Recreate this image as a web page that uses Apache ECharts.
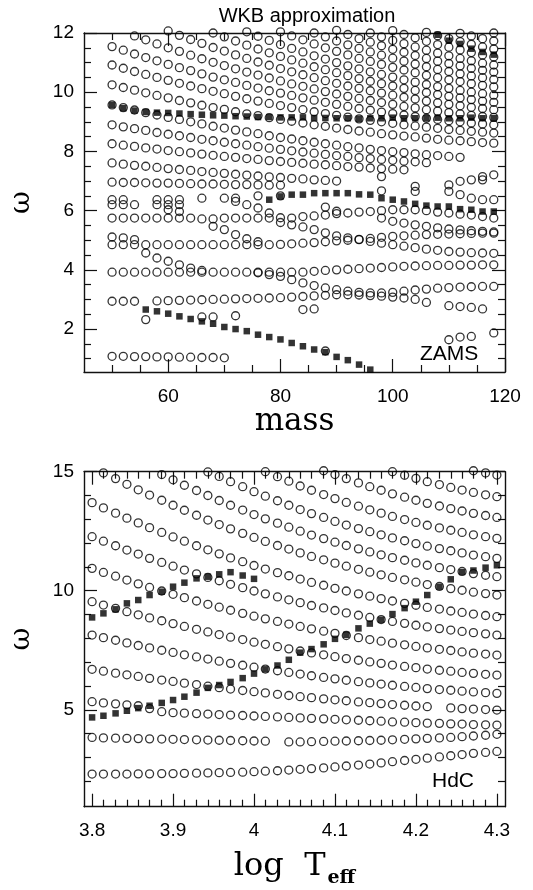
<!DOCTYPE html>
<html><head><meta charset="utf-8">
<script src="https://cdn.jsdelivr.net/npm/echarts@6/dist/echarts.min.js"></script>
<style>html,body{margin:0;padding:0;background:#fff}#c{width:533px;height:890px}</style>
</head><body><div id="c"></div>
<script>
// ---------- TOP PANEL (ZAMS): columns of mass ----------
const massCols = [50,52,54,56,58,60,62,64,66,68,70,72,74,76,78,80,82,84,86,88,90,92,94,96,98,100,102,104,106,108,110,112,114,116,118];
// each row: [start column index, omega values]
const zRow0 = [0,[6.96,6.95,6.95,6.94,6.93,6.93,6.92,6.91,6.90,6.90,6.89,6.88,6.88,6.87,6.86,6.86]];
const zRow1 = [0,[7.61,7.57,7.53,7.50,7.46,7.42,7.39,7.36,7.32,7.29,7.26,7.23,7.20,7.17,7.14,7.12,7.09,7.07,7.04,7.02,7.00]];
const zRow2 = [0,[8.26,8.21,8.17,8.12,8.08,8.03,7.99,7.95,7.91,7.87,7.83,7.80,7.76,7.73,7.69,7.66,7.63,7.60,7.57,7.55,7.52,7.49,7.47,7.44,7.42,7.40,7.38]];
const zRow3 = [0,[8.90,8.83,8.77,8.71,8.64,8.58,8.53,8.47,8.41,8.36,8.31,8.26,8.21,8.16,8.11,8.07,8.02,7.98,7.94,7.90,7.86,7.83,7.79,7.76,7.73,7.70,7.67,7.65,7.62]];
const zRow4 = [0,[9.57,9.48,9.40,9.31,9.23,9.15,9.08,9.00,8.93,8.85,8.79,8.72,8.66,8.60,8.53,8.47,8.42,8.36,8.31,8.26,8.21,8.16,8.12,8.07,8.03,7.99,7.96,7.92,7.89,7.86,7.83,7.80]];
const zRow5 = [0,[10.25,10.16,10.07,9.98,9.89,9.81,9.72,9.64,9.56,9.48,9.42,9.34,9.27,9.21,9.14,9.08,9.02,8.96,8.90,8.85,8.79,8.74,8.69,8.65,8.60,8.56,8.52,8.49,8.45,8.41,8.38,8.36,8.33,8.30,8.28]];
const zRow6 = [0,[10.92,10.81,10.70,10.60,10.50,10.40,10.30,10.21,10.12,10.03,9.95,9.86,9.78,9.70,9.62,9.55,9.48,9.41,9.34,9.28,9.22,9.16,9.10,9.05,9.00,8.95,8.90,8.86,8.82,8.78,8.74,8.71,8.68,8.65,8.62]];
const zRow7 = [0,[11.54,11.42,11.29,11.17,11.06,10.94,10.83,10.73,10.62,10.51,10.42,10.33,10.23,10.14,10.05,9.97,9.89,9.81,9.73,9.66,9.59,9.52,9.45,9.39,9.33,9.28,9.23,9.18,9.12,9.08,9.04,9.00,8.96,8.93,8.90]];
const zRow8 = [2,[11.90,11.77,11.63,11.50,11.38,11.25,11.13,11.01,10.90,10.79,10.68,10.58,10.48,10.38,10.28,10.20,10.11,10.02,9.94,9.86,9.79,9.72,9.65,9.59,9.52,9.47,9.41,9.36,9.31,9.27,9.22,9.18,9.15]];
const zRow9 = [5,[12.07,11.92,11.78,11.65,11.51,11.39,11.26,11.14,11.02,10.91,10.80,10.69,10.59,10.49,10.39,10.30,10.21,10.13,10.05,9.97,9.90,9.83,9.77,9.70,9.64,9.59,9.54,9.49,9.45,9.41]];
const zRow10 = [9,[12.00,11.87,11.73,11.59,11.46,11.33,11.21,11.09,10.98,10.86,10.76,10.66,10.56,10.46,10.37,10.29,10.21,10.13,10.06,9.99,9.92,9.86,9.81,9.75,9.70,9.66]];
const zRow11 = [12,[12.04,11.89,11.75,11.61,11.48,11.36,11.23,11.12,11.00,10.89,10.79,10.69,10.60,10.51,10.42,10.34,10.26,10.19,10.13,10.06,10.00,9.95,9.90]];
const zRow12 = [15,[12.04,11.90,11.77,11.63,11.50,11.38,11.26,11.14,11.04,10.94,10.84,10.75,10.66,10.57,10.49,10.42,10.36,10.29,10.23,10.18]];
const zRow13 = [18,[12.00,11.87,11.73,11.60,11.48,11.36,11.25,11.15,11.05,10.95,10.86,10.77,10.70,10.62,10.55,10.49,10.43]];
const zRow14 = [20,[12.09,11.95,11.81,11.69,11.57,11.45,11.35,11.24,11.14,11.05,10.97,10.89,10.81,10.74,10.68]];
const zRow15 = [23,[12.00,11.87,11.75,11.64,11.53,11.42,11.32,11.23,11.14,11.06,10.98,10.92]];
const zRow16 = [25,[12.08,11.95,11.84,11.72,11.61,11.52,11.43,11.34,11.26,11.19]];
const zRow17 = [28,[12.02,11.91,11.81,11.71,11.62,11.53,11.46]];
const zRow18 = [31,[11.99,11.90,11.81,11.73]];
const zRow19 = [34,[12.00]];
const zLA  = [0,[5.75,5.75,5.75,5.75,5.75,5.75,5.75,5.75,5.72,5.72,5.75,5.75,5.75,5.75,5.75,5.76,5.75,5.80,5.82,5.85,5.90,5.92,5.95,5.97,6.00,6.03,6.03,6.03,6.00,5.95,5.92,5.88,5.85,5.80,5.75]];
const zLA2 = [9,[5.47,5.36,5.19,5.05,4.95]];
const zLA3 = [24,[5.75,5.64,5.58,5.52,5.47,5.42,5.38,5.35,5.32,5.30,5.28]];
const zLB  = [0,[4.85,4.85,4.85,4.85,4.85,4.85,4.85,4.85,4.85,4.85,4.85,4.85,4.85,4.85,4.85,4.86,4.88,4.90,4.92,4.95,4.98,5.00,5.03,5.06,5.10,5.13,5.15,5.17,5.19,5.20,5.21,5.22,5.23,5.24,5.24]];
const zLB2 = [0,[5.11,5.08,5.02]];
const zLB3 = [15,[5.60,5.52,5.45,5.36,5.25,5.15,5.08,5.02,4.96,4.90,4.85,4.80,4.75,4.70,4.66,4.62,4.60,4.58,4.57,4.56]];
const zLC  = [0,[3.92,3.92,3.92,3.92,3.92,3.92,3.92,3.92,3.92,3.92,3.92,3.92,3.92,3.92,3.92,3.92,3.92,3.92,3.95,3.98,4.00,4.02,4.04,4.06,4.08,4.10,4.12,4.13,4.14,4.15,4.15,4.16,4.16,4.17,4.17]];
const zLC2 = [3,[4.57,4.40,4.29,4.17,4.06,3.98]];
const zLC3 = [13,[3.90,3.84,3.78,3.67,3.56,3.47,3.39,3.33,3.28,3.24,3.22,3.22,3.24,3.28,3.32,3.35,3.38,3.40,3.42,3.43,3.44,3.44]];
const zLD  = [0,[2.94,2.94,2.94,null,2.95,2.96,2.97,2.98,2.99,3.00,3.01,3.02,3.03,3.04,3.05,3.06,3.08,3.10,3.12,3.14,3.16,3.16,3.15,3.13,3.11,3.08,3.05,3.00,2.90]];
const zLD2 = [30,[2.79,2.76,2.73,2.68]];
const zLE  = [0,[1.08,1.08,1.07,1.07,1.06,1.06,1.05,1.05,1.04,1.04,1.03]];
const zLF  = [30,[1.64,1.73,1.75,null,1.87]];
const zMiscMass  = [50,50,52,52,54,58,58,60,60,60,62,62,62,66,70,72,72,74,76,76,78,80,88,90,98,98,104,104,110,110,112,112,114,114,116,116,116,118,118,56,66,68,72,84,86,88];
const zMiscOmega = [6.37,6.20,6.37,6.20,6.20,6.37,6.20,6.37,6.20,6.03,6.37,6.20,5.97,6.42,6.42,6.42,6.31,6.20,6.50,6.09,5.92,6.50,6.12,5.98,7.15,6.67,6.82,6.65,6.87,6.65,6.99,6.54,7.04,6.42,7.15,7.04,6.37,7.21,6.37,2.32,2.41,2.41,2.45,2.66,2.68,1.26];
// filled squares
const zSqA = [0,[9.57,9.46,9.38,9.33,9.31,9.30,9.28,9.26,9.24,9.22,9.21,9.19,9.18,9.16,9.16,9.15,9.15,9.15,9.13,9.13,9.12,9.12,9.10,9.12,9.12,9.14,9.12,9.12,9.12,9.14,9.12,9.12,9.14,9.12,9.12]];
const zSqB = [29,[11.94,11.74,11.63,11.47,11.36,11.27]];
const zSqC = [14,[6.37,6.48,6.54,6.54,6.59,6.59,6.59,6.59,6.55,6.54,6.42,6.37,6.31,6.23,6.17,6.14,6.14,6.05,6.03,5.97,5.97]];
const zSqD = [3,[2.66,2.60,2.52,2.43,2.34,2.26,2.18,2.07,2.00,1.93,1.81,1.73,1.65,1.53,1.42,1.31,1.22,1.06,0.95,0.80,0.63]];

// ---------- BOTTOM PANEL (HdC): columns of log Teff ----------
const hdcLogT = [3.800,3.814,3.829,3.843,3.857,3.871,3.886,3.900,3.914,3.929,3.943,3.957,3.971,3.986,4.000,4.014,4.029,4.043,4.057,4.071,4.086,4.100,4.114,4.129,4.143,4.157,4.171,4.186,4.200,4.214,4.229,4.243,4.257,4.271,4.286,4.300];
const hRow1 = [0,[2.30,2.30,2.30,2.30,2.31,2.31,2.32,2.32,2.33,2.34,2.35,2.36,2.37,2.38,2.40,2.42,2.44,2.47,2.50,2.53,2.56,2.60,2.64,2.68,2.72,2.77,2.82,2.87,2.92,2.97,3.02,3.07,3.12,3.17,3.21,3.25]];
const hRow2 = [0,[3.84,3.82,3.81,3.80,3.79,3.78,3.77,3.76,3.75,3.74,3.73,3.72,3.71,3.70,3.69,3.68,null,3.65,3.65,3.66,3.67,3.68,3.69,3.70,3.71,3.72,3.74,3.76,3.78,3.80,3.82,3.84,3.87,3.90,3.93,3.97]];
const hRow3 = [0,[5.34,5.29,5.25,5.21,5.17,5.05,4.92,4.88,4.86,4.84,4.82,4.80,4.78,4.76,4.74,4.72,4.70,4.68,4.66,4.64,4.62,4.60,4.58,4.56,4.54,4.52,4.49,4.48,4.46,4.44,4.43,4.41,4.40,4.38,4.37,4.36]];
const hRow4 = [0,[6.70,6.62,6.54,6.47,6.40,6.32,6.25,6.19,6.12,6.06,5.99,5.93,5.87,5.81,5.76,5.71,5.65,5.60,5.55,5.51,5.46,5.42,5.38,5.33,5.30,5.26,5.22,5.19,5.16,5.13,null,5.08,5.05,5.03,5.01,4.99]];
const hRow5 = [0,[8.14,8.03,7.92,7.81,7.70,7.60,7.50,7.41,7.31,7.22,7.13,7.04,6.95,6.87,6.79,6.71,6.64,6.57,6.50,6.43,6.36,6.30,6.24,6.18,6.13,6.08,6.03,5.98,5.94,5.89,5.85,5.82,5.78,5.75,5.72,5.69]];
const hRow6 = [0,[9.54,9.40,9.26,9.12,8.99,8.86,8.74,8.62,8.50,8.38,8.27,8.16,8.05,7.95,7.84,7.75,7.65,7.56,7.47,7.39,7.31,7.23,7.15,7.08,7.01,6.95,6.88,6.82,6.77,6.71,6.66,6.62,6.57,6.53,6.49,6.46]];
const hRow7 = [0,[10.94,10.77,10.61,10.45,10.29,10.14,9.99,9.85,9.71,9.57,9.43,9.31,9.18,9.05,8.93,8.82,8.71,8.60,8.50,8.40,8.30,8.21,8.12,8.03,7.95,7.88,7.80,7.73,7.66,7.60,7.54,7.49,7.43,7.38,7.34,7.30]];
const hRow8 = [0,[12.27,12.08,11.89,11.71,11.54,11.36,11.19,11.03,10.87,10.71,10.56,10.42,10.27,10.13,9.99,9.87,9.74,9.62,9.50,9.38,9.28,9.17,9.07,8.97,8.88,8.79,8.71,8.63,8.55,8.48,8.41,8.35,8.29,8.24,8.19,8.14]];
const hRow9 = [0,[13.70,13.48,13.26,13.05,12.85,12.65,12.45,12.26,12.08,11.89,11.72,11.55,11.38,11.22,11.06,10.91,10.76,10.63,10.49,10.35,10.23,10.10,9.99,9.87,9.77,9.67,9.57,9.47,9.39,9.30,9.23,9.15,9.09,9.02,8.96,8.91]];
const hRow10 = [1,[14.95,14.71,14.47,14.24,14.02,13.80,13.59,13.38,13.17,12.97,12.78,12.60,12.41,12.24,12.07,11.90,11.75,11.59,11.44,11.30,11.16,11.03,10.90,10.78,10.67,10.56,10.46,10.36,10.26,10.18,10.09,10.02,9.94,9.88,9.82]];
const hRow11 = [6,[14.88,14.66,14.43,14.21,14.00,13.79,13.59,13.39,13.20,13.02,12.84,12.67,12.50,12.34,12.19,12.04,11.90,11.76,11.63,11.51,11.39,11.28,11.17,11.07,10.97,10.89,10.81,10.72,10.65,10.59]];
const hRow12 = [10,[14.99,14.80,14.58,14.37,14.16,13.97,13.78,13.59,13.41,13.24,13.08,12.91,12.76,12.61,12.48,12.35,12.22,12.10,11.98,11.87,11.77,11.68,11.59,11.50,11.43,11.36]];
const hRow13 = [15,[15.00,14.79,14.60,14.40,14.22,14.04,13.87,13.71,13.55,13.40,13.26,13.12,12.99,12.87,12.75,12.64,12.54,12.45,12.35,12.27,12.20]];
const hRow14 = [20,[15.04,14.88,14.71,14.53,14.37,14.22,14.07,13.93,13.80,13.67,13.56,13.45,13.35,13.25,13.16,13.08]];
const hRow15 = [26,[15.00,14.85,14.72,14.58,14.46,14.34,14.23,14.13,14.03,13.95]];
const hRow16 = [33,[15.04,14.95,14.86]];
const hSqA = [0,[8.88,9.05,9.22,9.47,9.61,9.82,9.96,10.17,10.34,10.52,10.59,10.69,10.78,10.64,10.50]];
const hSqB = [0,[4.68,4.75,4.85,4.96,5.07,5.17,5.29,5.41,5.55,5.72,5.92,6.04,6.17,6.33,6.52,6.70,6.86,7.10,7.40,7.55,7.75,7.98,8.15,8.42,8.62,8.78,9.02,9.27,9.54,9.82,10.17,10.48,10.79,10.85,10.97,11.07]];

// tick positions / labels
const topXMajor = [60,80,100,120], topXMinor = [50,55,65,70,75,85,90,95,105,110,115];
const topYMajor = [2,4,6,8,10,12], topYMinor = [1,1.5,2.5,3,3.5,4.5,5,5.5,6.5,7,7.5,8.5,9,9.5,10.5,11,11.5];
const botXMajor = [3.8,3.9,4,4.1,4.2,4.3];
const botYMajor = [5,10,15], botYMinor = [2,3,4,6,7,8,9,11,12,13,14];

function expand(cols, row){ const s=row[0], v=row[1]; const out=[]; v.forEach((w,k)=>{ if(w!=null) out.push([cols[s+k], w]); }); return out; }
const topOpen = [].concat(...[zRow0,zRow1,zRow2,zRow3,zRow4,zRow5,zRow6,zRow7,zRow8,zRow9,zRow10,zRow11,zRow12,zRow13,zRow14,zRow15,zRow16,zRow17,zRow18,zRow19,zLA,zLA2,zLA3,zLB,zLB2,zLB3,zLC,zLC2,zLC3,zLD,zLD2,zLE,zLF].map(r=>expand(massCols,r)), zMiscMass.map((m,k)=>[m,zMiscOmega[k]]));
const topSq = [].concat(...[zSqA,zSqB,zSqC,zSqD].map(r=>expand(massCols,r)));
const botOpen = [].concat(...[hRow1,hRow2,hRow3,hRow4,hRow5,hRow6,hRow7,hRow8,hRow9,hRow10,hRow11,hRow12,hRow13,hRow14,hRow15,hRow16].map(r=>expand(hdcLogT,r)));
const botSq = [].concat(...[hSqA,hSqB].map(r=>expand(hdcLogT,r)));
const botXMinor = hdcLogT.filter(v=>!botXMajor.some(m=>Math.abs(m-v)<1e-6));

const INK = '#111';
const LBL = {color:'#000', fontSize:19, fontFamily:'Liberation Sans, Arial, sans-serif'};
function xAxes(grid, min, max, major, minor, name, nameGap, nameObj){
  const base = {gridIndex:grid, type:'value', min, max, splitLine:{show:false}};
  return [
    Object.assign({}, base, {position:'bottom', axisLine:{show:true,onZero:false,lineStyle:{color:INK,width:1.4}},
      axisTick:{show:true,inside:true,length:13,customValues:major,lineStyle:{color:INK,width:1.2}},
      axisLabel:Object.assign({customValues:major, margin:15}, LBL), name:name, nameLocation:'middle', nameGap:nameGap, nameTextStyle:nameObj}),
    Object.assign({}, base, {position:'bottom', axisLine:{show:false,onZero:false},
      axisTick:{show:true,inside:true,length:7,customValues:minor,lineStyle:{color:INK,width:1.2}}, axisLabel:{show:false}}),
    Object.assign({}, base, {position:'top', axisLine:{show:true,onZero:false,lineStyle:{color:INK,width:1.4}},
      axisTick:{show:true,inside:true,length:13,customValues:major,lineStyle:{color:INK,width:1.2}}, axisLabel:{show:false}}),
    Object.assign({}, base, {position:'top', axisLine:{show:false,onZero:false},
      axisTick:{show:true,inside:true,length:7,customValues:minor,lineStyle:{color:INK,width:1.2}}, axisLabel:{show:false}})
  ];
}
function yAxes(grid, min, max, major, minor){
  const base = {gridIndex:grid, type:'value', min, max, splitLine:{show:false}};
  return [
    Object.assign({}, base, {position:'left', axisLine:{show:true,onZero:false,lineStyle:{color:INK,width:1.4}},
      axisTick:{show:true,inside:true,length:13,customValues:major,lineStyle:{color:INK,width:1.2}},
      axisLabel:Object.assign({customValues:major, margin:10}, LBL),
      name:'ω', nameLocation:'middle', nameGap:48, nameRotate:90,
      nameTextStyle:{color:'#000', fontSize:28, fontFamily:'DejaVu Serif, serif'}}),
    Object.assign({}, base, {position:'left', axisLine:{show:false,onZero:false},
      axisTick:{show:true,inside:true,length:7,customValues:minor,lineStyle:{color:INK,width:1.2}}, axisLabel:{show:false}}),
    Object.assign({}, base, {position:'right', axisLine:{show:true,onZero:false,lineStyle:{color:INK,width:1.4}},
      axisTick:{show:true,inside:true,length:13,customValues:major,lineStyle:{color:INK,width:1.2}}, axisLabel:{show:false}}),
    Object.assign({}, base, {position:'right', axisLine:{show:false,onZero:false},
      axisTick:{show:true,inside:true,length:7,customValues:minor,lineStyle:{color:INK,width:1.2}}, axisLabel:{show:false}})
  ];
}
const serif = 'DejaVu Serif, Liberation Serif, serif';
const xA = [].concat(
  xAxes(0, 45, 120, topXMajor, topXMinor, 'mass', 24, {color:'#000', fontSize:31, fontFamily:serif, verticalAlign:'top'}),
  xAxes(1, 3.79, 4.31, botXMajor, botXMinor, '{a|log  T}{b|eff}', 38,
    {verticalAlign:'top', rich:{a:{color:'#000', fontSize:32, fontFamily:serif}, b:{color:'#000', fontSize:19, fontWeight:'bold', fontFamily:serif, padding:[24,0,0,2]}}})
);
const yA = [].concat(yAxes(0, 0.55, 12, topYMajor, topYMinor), yAxes(1, 0.93, 15, botYMajor, botYMinor));

const circleStyle = {color:'rgba(0,0,0,0)', borderColor:'#000', borderWidth:1.3};
const sqStyle = {color:'#000'};
const option = {
  backgroundColor:'#fff', animation:false,
  title:{text:'WKB approximation', left:302, top:1, textAlign:'center',
    textStyle:{fontSize:20, fontWeight:'normal', color:'#000', fontFamily:'Liberation Sans, Arial, sans-serif'}},
  grid:[{left:80.7, top:33, width:424.3, height:339}, {left:80.7, top:471.7, width:424.3, height:335}],
  xAxis:xA, yAxis:yA,
  series:[
    {type:'scatter', xAxisIndex:0, yAxisIndex:0, data:topOpen, symbol:'circle', symbolSize:8, itemStyle:circleStyle, clip:false, silent:true},
    {type:'scatter', xAxisIndex:0, yAxisIndex:0, data:topSq, symbol:'rect', symbolSize:6.5, itemStyle:sqStyle, clip:false, silent:true},
    {type:'scatter', xAxisIndex:4, yAxisIndex:4, data:botOpen, symbol:'circle', symbolSize:8, itemStyle:circleStyle, clip:false, silent:true},
    {type:'scatter', xAxisIndex:4, yAxisIndex:4, data:botSq, symbol:'rect', symbolSize:6.5, itemStyle:sqStyle, clip:false, silent:true}
  ],
  graphic:[
    {type:'text', left:420, top:344, style:{text:'ZAMS', fontSize:21, fill:'#000', fontFamily:'Liberation Sans, Arial, sans-serif'}},
    {type:'text', left:432, top:771, style:{text:'HdC', fontSize:21, fill:'#000', fontFamily:'Liberation Sans, Arial, sans-serif'}}
  ]
};
const chart = echarts.init(document.getElementById('c'), null, {renderer:'canvas', width:533, height:890});
chart.setOption(option);
</script></body></html>
